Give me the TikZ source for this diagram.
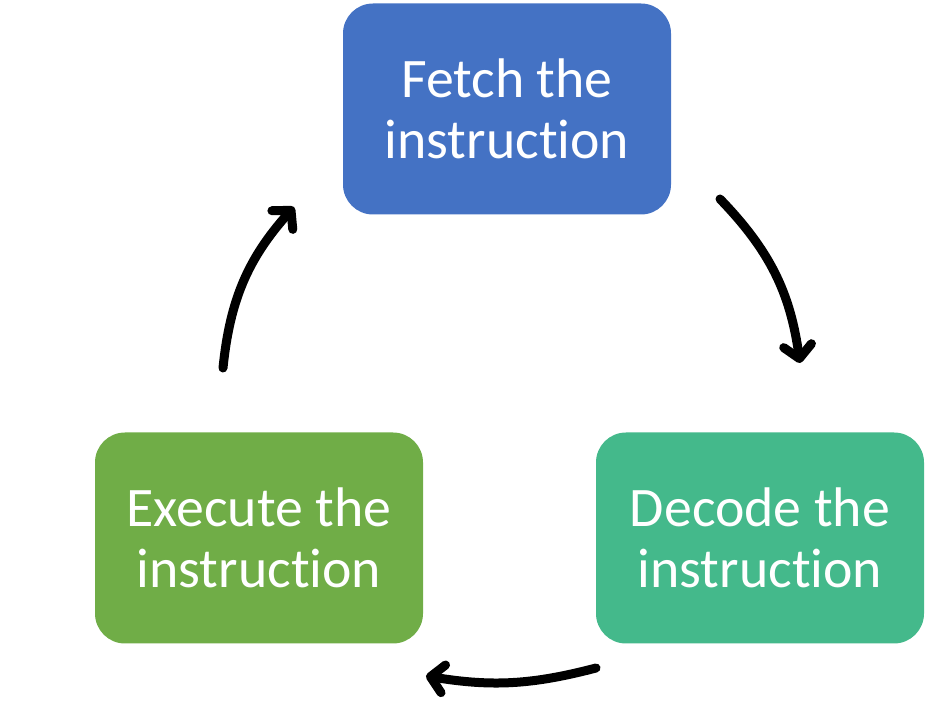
\documentclass[tikz,border=0pt]{standalone}
\usepackage{fontspec}
\setmainfont{Carlito}[Ligatures=NoCommon]
\usetikzlibrary{arrows.meta}
\definecolor{fetchblue}{HTML}{4472C4}
\definecolor{decodeteal}{HTML}{44B98B}
\definecolor{executegreen}{HTML}{70AD47}
\begin{document}
\begin{tikzpicture}[>={Straight Barb[length=13bp,width=28bp,round]},line join=round,
  stage/.style={rectangle,rounded corners=30bp,minimum width=328bp,minimum height=211bp,
    inner sep=0pt,align=center,text=white,font=\fontsize{56}{62}\selectfont},
  cycle/.style={->,line width=9bp,line cap=round}]
%%
\useasboundingbox (0bp,0bp) rectangle (952bp,709bp);
\node (fetch) at (507bp,600bp) [stage,fill=fetchblue] {Fetch the\\[-1bp]instruction};
  \node (decode) at (760bp,171bp) [stage,fill=decodeteal] {Decode the\\[-1bp]instruction};
  \node (execute) at (259bp,171bp) [stage,fill=executegreen] {Execute the\\[-1bp]instruction};
  \coordinate (fetch_out) at (720bp,510bp);
  \coordinate (decode_in) at (800bp,346bp);
  \coordinate (decode_out) at (596bp,41bp);
  \coordinate (execute_in) at (426bp,33bp);
  \coordinate (execute_out) at (223bp,341bp);
  \coordinate (fetch_in) at (294bp,502bp);
  \draw [cycle] (fetch_out) to[bend left=18] (decode_in);
  \draw [cycle] (decode_out) to[bend left=12] (execute_in);
  \draw [cycle] (execute_out) to[bend left=18] (fetch_in);
%
\end{tikzpicture}
\end{document}
